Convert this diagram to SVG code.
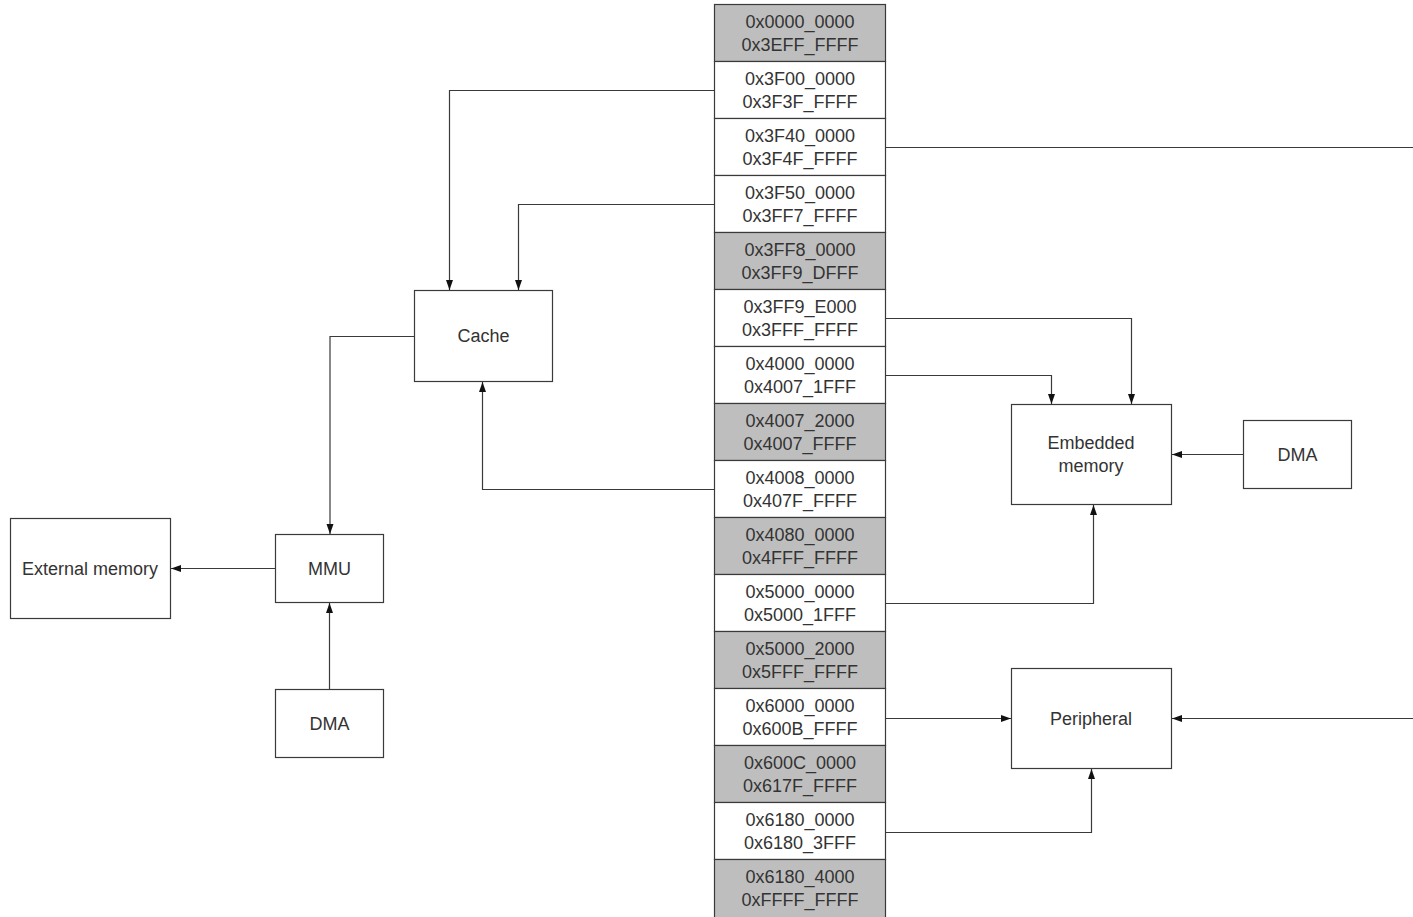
<svg xmlns="http://www.w3.org/2000/svg" width="1413" height="917" viewBox="0 0 1413 917">
<style>
.box{fill:#fff;stroke:#3a3a3a;stroke-width:1.2}
.gray{fill:#bebebe;stroke:#3a3a3a;stroke-width:1.2}
.t{font-family:"Liberation Sans",Arial,sans-serif;font-size:18px;fill:#333;text-anchor:middle}
.c{fill:none;stroke:#3a3a3a;stroke-width:1.2}
.a{marker-end:url(#arr)}
</style>
<defs>
<marker id="arr" markerUnits="userSpaceOnUse" markerWidth="10" markerHeight="8" refX="10" refY="4" orient="auto">
<path d="M0,0.5 L10,4 L0,7.5 z" fill="#111"/>
</marker>
</defs>
<rect width="1413" height="917" fill="#fff"/>
<g id="memory-map">
<g id="r1"><rect class="gray" x="714.5" y="4.5" width="171" height="57"/><text class="t" x="800" y="28">0x0000_0000</text><text class="t" x="800" y="51">0x3EFF_FFFF</text></g>
<g id="r2"><rect class="box" x="714.5" y="61.5" width="171" height="57"/><text class="t" x="800" y="85">0x3F00_0000</text><text class="t" x="800" y="108">0x3F3F_FFFF</text></g>
<g id="r3"><rect class="box" x="714.5" y="118.5" width="171" height="57"/><text class="t" x="800" y="142">0x3F40_0000</text><text class="t" x="800" y="165">0x3F4F_FFFF</text></g>
<g id="r4"><rect class="box" x="714.5" y="175.5" width="171" height="57"/><text class="t" x="800" y="199">0x3F50_0000</text><text class="t" x="800" y="222">0x3FF7_FFFF</text></g>
<g id="r5"><rect class="gray" x="714.5" y="232.5" width="171" height="57"/><text class="t" x="800" y="256">0x3FF8_0000</text><text class="t" x="800" y="279">0x3FF9_DFFF</text></g>
<g id="r6"><rect class="box" x="714.5" y="289.5" width="171" height="57"/><text class="t" x="800" y="313">0x3FF9_E000</text><text class="t" x="800" y="336">0x3FFF_FFFF</text></g>
<g id="r7"><rect class="box" x="714.5" y="346.5" width="171" height="57"/><text class="t" x="800" y="370">0x4000_0000</text><text class="t" x="800" y="393">0x4007_1FFF</text></g>
<g id="r8"><rect class="gray" x="714.5" y="403.5" width="171" height="57"/><text class="t" x="800" y="427">0x4007_2000</text><text class="t" x="800" y="450">0x4007_FFFF</text></g>
<g id="r9"><rect class="box" x="714.5" y="460.5" width="171" height="57"/><text class="t" x="800" y="484">0x4008_0000</text><text class="t" x="800" y="507">0x407F_FFFF</text></g>
<g id="r10"><rect class="gray" x="714.5" y="517.5" width="171" height="57"/><text class="t" x="800" y="541">0x4080_0000</text><text class="t" x="800" y="564">0x4FFF_FFFF</text></g>
<g id="r11"><rect class="box" x="714.5" y="574.5" width="171" height="57"/><text class="t" x="800" y="598">0x5000_0000</text><text class="t" x="800" y="621">0x5000_1FFF</text></g>
<g id="r12"><rect class="gray" x="714.5" y="631.5" width="171" height="57"/><text class="t" x="800" y="655">0x5000_2000</text><text class="t" x="800" y="678">0x5FFF_FFFF</text></g>
<g id="r13"><rect class="box" x="714.5" y="688.5" width="171" height="57"/><text class="t" x="800" y="712">0x6000_0000</text><text class="t" x="800" y="735">0x600B_FFFF</text></g>
<g id="r14"><rect class="gray" x="714.5" y="745.5" width="171" height="57"/><text class="t" x="800" y="769">0x600C_0000</text><text class="t" x="800" y="792">0x617F_FFFF</text></g>
<g id="r15"><rect class="box" x="714.5" y="802.5" width="171" height="57"/><text class="t" x="800" y="826">0x6180_0000</text><text class="t" x="800" y="849">0x6180_3FFF</text></g>
<g id="r16"><rect class="gray" x="714.5" y="859.5" width="171" height="60"/><text class="t" x="800" y="883">0x6180_4000</text><text class="t" x="800" y="906">0xFFFF_FFFF</text></g>
</g>
<g id="cache"><rect class="box" x="414.5" y="290.5" width="138" height="91"/><text class="t" x="483.5" y="342">Cache</text></g>
<g id="mmu"><rect class="box" x="275.5" y="534.5" width="108" height="68"/><text class="t" x="329.5" y="575">MMU</text></g>
<g id="external-memory"><rect class="box" x="10.5" y="518.5" width="160" height="100"/><text class="t" x="90" y="575">External memory</text></g>
<g id="dma-left"><rect class="box" x="275.5" y="689.5" width="108" height="68"/><text class="t" x="329.5" y="730">DMA</text></g>
<g id="embedded-memory"><rect class="box" x="1011.5" y="404.5" width="160" height="100"/><text class="t" x="1091" y="449">Embedded</text><text class="t" x="1091" y="472">memory</text></g>
<g id="dma-right"><rect class="box" x="1243.5" y="420.5" width="108" height="68"/><text class="t" x="1297.5" y="461">DMA</text></g>
<g id="peripheral"><rect class="box" x="1011.5" y="668.5" width="160" height="100"/><text class="t" x="1091" y="725">Peripheral</text></g>
<g id="connectors">
<path class="c a" d="M714,90.5 H449.5 V290"/>
<path class="c a" d="M714,204.5 H518.5 V290"/>
<path class="c a" d="M714,489.5 H482.5 V382"/>
<path class="c a" d="M414,336.5 H330 V534"/>
<path class="c a" d="M275,568.5 H171"/>
<path class="c a" d="M329.5,689 V603"/>
<path class="c" d="M886,147.5 H1413"/>
<path class="c a" d="M886,318.5 H1131.5 V404"/>
<path class="c a" d="M886,375.5 H1051.5 V404"/>
<path class="c a" d="M1243,454.5 H1172"/>
<path class="c a" d="M886,603.5 H1093.5 V505"/>
<path class="c a" d="M886,718.5 H1011"/>
<path class="c a" d="M1413,718.5 H1172"/>
<path class="c a" d="M886,832.5 H1091.5 V769"/>
</g>
</svg>
